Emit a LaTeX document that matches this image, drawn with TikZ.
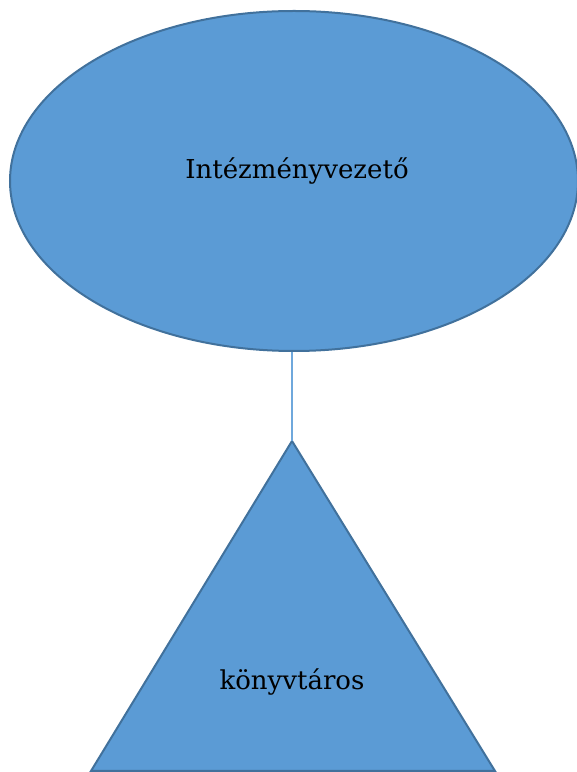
\documentclass[tikz,border=0pt]{standalone}
\usepackage{fontspec}
\setmainfont{DejaVu Serif}
\usetikzlibrary{shapes.geometric}
\definecolor{shapefill}{HTML}{5B9BD5}
\definecolor{shapeline}{HTML}{41719C}
\definecolor{connline}{HTML}{6FA8DC}
\tikzset{
  shapebox/.style={fill=shapefill, draw=shapeline, line width=2pt},
  label text/.style={font=\fontsize{26}{31}\selectfont, text=black, inner sep=0pt},
  connector/.style={draw=connline, line width=1.2pt}
}
\begin{document}
\begin{tikzpicture}[x=1pt,y=1pt]
\useasboundingbox (0,0) rectangle (577,772);
\clip (0,0) rectangle (577,772);
% ellipse
\node[ellipse, shapebox, minimum width=568pt, minimum height=340pt, inner sep=0pt] (boss) at (294,591) {};
\node[label text] (bosstext) at (297,601) {Intézményvezető};
% triangle
\coordinate (apex) at (292,331);
\coordinate (bl) at (91,1);
\coordinate (br) at (495,1);
\draw[shapebox] (apex) -- (br) -- (bl) -- cycle;
\node[label text] (libtext) at (292,90) {könyvtáros};
% connector
\draw[connector] (boss.south -| apex) -- (apex);
\end{tikzpicture}
\end{document}
